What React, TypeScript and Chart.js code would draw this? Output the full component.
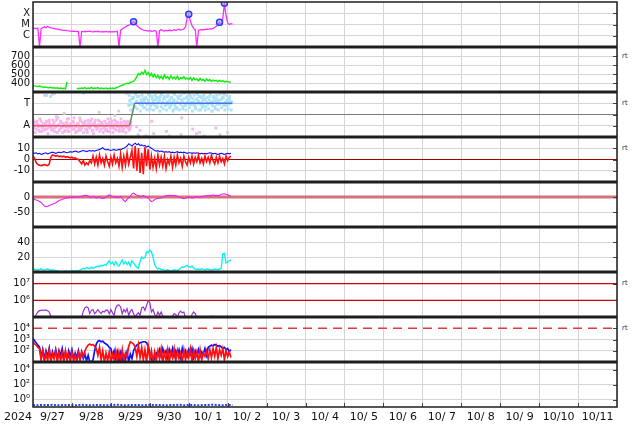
import React, { useEffect, useRef } from 'react';
import { Chart, registerables } from 'chart.js';

Chart.register(...registerables);

const FONT = '"DejaVu Sans", sans-serif';

// ---------- axis text ----------
const dayLabels = ['9/27', '9/28', '9/29', '9/30', '10/ 1', '10/ 2', '10/ 3', '10/ 4', '10/ 5', '10/ 6', '10/ 7', '10/ 8', '10/ 9', '10/10', '10/11'];
const yearLabel = '2024';
const sideMark = 'rt';

const xrayTicks = [1e-6, 1e-5, 1e-4];
const xrayTickLabels = ['C', 'M', 'X'];
const speedTicks = [400, 500, 600, 700];
const speedTickLabels = ['400', '500', '600', '700'];
const sectorTicks = [-1, 0, 1];
const sectorTickLabels = ['A', '', 'T'];
const imfTicks = [-10, 0, 10];
const imfTickLabels = ['-10', '0', '10'];
const dstTicks = [-50, 0];
const dstTickLabels = ['-50', '0'];
const densTicks = [20, 40];
const densTickLabels = ['20', '40'];
const elecTicks = [1e6, 1e7];
const elecTickLabels = ['10\u2076', '10\u2077'];
const protTicks = [1e2, 1e3, 1e4];
const protTickLabels = ['10\u00b2', '10\u00b3', '10\u2074'];
const highTicks = [1, 1e2, 1e4];
const highTickLabels = ['10\u2070', '10\u00b2', '10\u2074'];

// reference levels
const sectorBoundary = 0;
const imfZero = 0;
const dstZero = 0;
const electronLevels = [1e6, 1e7];
const protonLevel = 1e4;
const rtAxes = ['ySpeed', 'ySector', 'yImf', 'yElec', 'yProt'];
const rtLevels = [700, 1, 10, 1e7, 1e4];

// ---------- data (hourly from 2024-09-27 00:00) ----------
// X-ray flux in units of 1e-6 W/m2
const xrayFluxC = [
  4.6, 4.5, 4.4, 4.6, 0.1, 4.5, 5.0, 6.5, 5.2, 7.0, 5.5, 5.0, 4.8,
  4.2, 4.0, 3.8, 3.6, 3.4, 3.2, 3.0, 3.0, 2.8, 2.7, 2.6, 2.5, 2.5, 2.4, 2.4, 2.3,
  0.1,
  2.4, 2.3, 2.5, 2.3, 2.4, 2.6, 2.3, 2.2, 2.4, 2.3, 2.5, 2.3, 2.2, 2.3, 2.2, 2.4, 2.2, 2.3, 2.2, 2.3, 2.2, 2.3, 2.4,
  0.1,
  3.2, 4.0, 5.0, 6.0, 7.5, 9.0, 10, 13, 18,
  12, 8, 6, 4.5, 3.8, 3.2, 3.0, 2.8,
  2.6, 2.8, 2.5, 2.6, 3.0, 2.6,
  0.1,
  2.8, 3.5, 2.8, 2.6, 3.0, 2.7, 3.2, 2.8, 3.0, 3.5, 3.0, 3.4, 3.8, 3.2, 3.6, 4.0, 6.0,
  40, 80,
  20, 8, 4.5, 3.5,
  0.1,
  3.2, 3.3, 3.5, 3.4, 3.6, 3.8, 3.7, 4.0, 4.2, 4.5, 5.5, 7, 10,
  16, 9, 30, 760, 60, 14, 10, 12, 11,
];
const flareHours = [62, 96, 115, 118];
const flareFluxC = [18, 80, 16, 760];

// solar wind speed km/s
const windSpeed = [
  372, 368, 365, 360, 366, 358, 355, 352, 355, 350, 348,
  352, 345, 348, 342, 346, 340, 344, 338, 342, 336,
  412, null, null, null, null, null,
  335, 342, 338, 345, 340, 348, 336, 344, 340, 350, 338, 345, 342, 348, 336, 344, 340, 338, 345, 336, 342, 340, 345, 338,
  345, 352, 360, 368, 375, 382, 390, 398, 395, 405, 412, 420,
  440, 470, 505, 490, 520, 500, 540, 495, 515, 480, 505, 470, 495,
  460, 485, 450, 475, 445, 490, 455, 470, 440, 480, 450, 465, 445, 475, 440, 460, 450, 470, 445, 455,
  440, 460, 430, 455, 435, 445, 425, 450, 430, 440, 420, 445, 425, 438, 418, 432, 422, 430, 415, 428, 418, 425, 412, 420, 415, 410, 408,
];

// IMF sector (A = -1, T = +1)
const sectorChangeDays = [0, 2.48, 2.61, 5.12];
const sectorStates = [-1, -1, 1, 1];
const awayPoints = [
  -1.0, -0.7, -1.3, -0.9, -1.5, -0.6, -1.1, -1.4, -0.8, -1.2, -0.5, -1.0, -1.3, -0.7, -1.1, -1.6, -0.9, -0.6, -1.2, -1.0,
  -1.4, -0.8, -0.4, -1.1, -1.3, -0.7, -1.0, -1.5, -0.9, -0.6, -1.2, -1.0, -0.8, -1.3, -0.5, -1.1, -0.9, -1.4, -0.7, -1.0,
  -1.2, -0.6, -1.3, -0.9, -1.1, -0.8, -1.5, -0.7, -1.0, -1.2, -0.9, -0.6, -1.1, -1.4, -0.8, -1.0, -1.3, -0.7, -1.1, -0.9, -1.2,
];
const awayPoints2 = [
  -1.2, -0.9, -0.6, -1.4, -1.0, -1.2, -0.8, -1.0, -1.3, -0.6, -1.1, -1.4, -0.9, -1.2, -0.5, -1.0, -1.3, -1.1, -0.8, -1.5,
  -0.7, -1.2, -1.0, -0.9, -0.6, -1.3, -1.1, -0.8, -1.2, -1.4, -0.7, -0.9, -1.3, -1.0, -1.2, -0.6, -1.4, -0.8, -1.1, -1.3,
  -0.9, -1.0, -0.7, -1.2, -1.4, -1.0, -0.9, -1.2, -0.6, -1.1, -1.3, -0.8, -1.0, -1.2, -0.7, -1.4, -0.9, -1.1, -0.6, -1.3, -1.0,
];
const awayPoints3 = [
  -0.5, -1.6, -0.8, -1.1, -0.4, -1.5, -0.9, -1.3, -0.6, -1.7, -0.8, -1.2, -0.5, -1.5, -1.0, -0.3, -1.4, -0.7, -1.6, -0.9,
  -1.1, -0.4, -1.5, -0.8, -1.2, -0.3, -1.6, -0.9, -1.4, -0.5, -1.1, -1.6, -0.6, -1.5, -0.8, -1.2, -0.4, -1.7, -0.9, -1.3,
  -0.5, -1.5, -0.8, -1.6, -0.6, -1.3, -0.4, -1.5, -0.8, -1.6, -0.5, -1.4, -0.7, -1.5, -0.4, -1.2, -0.6, -1.6, -0.8, -1.4, -0.7,
];
const towardPoints = [
  0.8, 1.3, 1.0, 1.5, 0.7, 1.2, 1.6, 0.9, 1.1, 1.4, 0.6, 1.0, 1.3, 1.7, 0.9, 1.2, 0.8, 1.5, 1.0, 1.3,
  0.7, 1.1, 1.4, 0.9, 1.6, 1.2, 0.8, 1.0, 1.3, 0.6, 1.1, 1.5, 0.9, 1.2, 1.4, 0.8, 1.0, 1.3, 1.7, 0.9,
  1.1, 0.7, 1.4, 1.2, 1.0, 1.5, 0.8, 1.3, 1.1, 0.9, 1.6, 1.0, 1.2, 0.7, 1.4, 1.1, 0.9, 1.3, 1.5, 1.0, 0.8, 1.2, 1.4, 1.0,
];
const towardPoints2 = [
  1.2, 0.9, 1.4, 0.7, 1.1, 1.6, 1.0, 1.3, 0.8, 1.2, 1.5, 0.9, 1.1, 0.8, 1.4, 1.0, 1.3, 0.7, 1.2, 1.6,
  1.0, 1.4, 0.8, 1.1, 0.9, 1.3, 1.5, 1.2, 0.8, 1.1, 1.4, 1.0, 1.3, 0.7, 1.0, 1.5, 1.2, 0.9, 1.1, 1.4,
  0.8, 1.3, 1.0, 1.6, 0.9, 1.2, 1.4, 0.7, 1.0, 1.3, 1.1, 0.8, 1.5, 1.2, 0.9, 1.3, 1.0, 1.4, 0.8, 1.1, 1.3, 0.9, 1.2, 1.1,
];
const towardPoints3 = [
  1.7, 0.4, 1.5, 0.6, 1.8, 0.5, 1.6, 0.3, 1.7, 0.6, 1.4, 0.4, 1.8, 0.5, 1.6, 0.4, 1.7, 0.6, 1.5, 0.3,
  1.8, 0.5, 1.6, 0.4, 1.7, 0.6, 1.5, 0.3, 1.8, 0.5, 1.6, 0.4, 1.7, 0.5, 1.9, 0.4, 1.6, 0.6, 1.5, 0.3,
  1.7, 0.5, 1.8, 0.4, 1.6, 0.6, 1.7, 0.4, 1.5, 0.5, 1.8, 0.3, 1.6, 0.5, 1.7, 0.4, 1.8, 0.6, 1.5, 0.4, 1.7, 0.5, 1.6, 0.4,
];
const strayGreyDays = [0.3, 0.5, 0.6, 0.9, 1.2, 1.4, 1.7, 1.9, 2.0, 2.2, 2.3, 2.4, 2.45, 2.7, 2.9, 3.1, 3.3, 3.5, 3.6, 3.8, 4.0, 4.2, 4.4, 4.6, 4.8, 4.9, 5.0, 1.6, 2.1, 0.8, 3.0, 3.7, 4.3, 4.7];
const strayGreyVals = [1.7, 1.8, -0.2, -1.5, -0.3, -1.6, 0.2, -1.4, -0.4, 0.3, -1.5, 1.9, -1.2, -1.8, -1.9, -1.7, 1.8, -1.9, 0.4, -1.8, 1.9, -1.7, -1.9, 0.3, -1.8, 1.8, -1.6, -0.5, -0.1, 0.1, 0.5, 0.6, 0.4, 0.5];
const strayPinkDays = [2.66, 2.75, 3.05, 3.43, 3.82, 4.1, 4.28, 4.7];
const strayPinkVals = [-1.1, -1.4, -0.6, -1.5, -0.3, -1.3, -1.6, -1.2];
const strayBlueDays = [0.35, 0.45, 0.55, 1.3];
const strayBlueVals = [1.7, 1.6, 1.85, 1.9];

// IMF nT
const imfBt = [
  6, 5.5, 6, 5, 5.5, 4.5, 5, 5.5, 6, 5, 5.5, 6, 6.5, 6, 5.5, 6, 6.5, 6, 6.5, 7, 6.5, 6, 6.5, 7, 6.5,
  7, 7.5, 7, 6.5, 7, 7.5, 8, 7.5, 7, 7.5, 8, 7.5, 8, 7.5, 8, 8.5, 9, 9.5, 10.5, 9, 8.5, 9, 8.5, 8,
  8.5, 9, 8, 8.5, 9, 8.5, 9.5, 10, 11, 12, 14, 13, 12, 13.5, 14.5, 13, 14, 12.5, 13, 12, 12.5, 11, 12, 11,
  10, 9, 8, 7.5, 8, 7, 7.5, 7, 6.5, 7, 6.5, 7, 6, 6.5, 6, 6.5, 7, 6, 6.5, 6, 6.5, 6, 5.5, 6,
  6, 5.5, 6, 5.5, 6, 5.5, 5, 5.5, 5, 5.5, 5, 5.5, 6, 5.5, 5, 5.5, 5, 4.5, 5, 5.5, 5, 4.5, 5, 5.5, 5, 5.5,
];
const imfBz = [
  3, 1, -3, -4.5, -5, -5.5, -5, -4.5, -5, -5.5, -4, 2, 4,
  3.5, 3, 3.5, 2.5, 3, 2.5, 3, 2, 2.5, 2, 1.5, 2, 1, 1.5, 0.5, 0,
  -2, -4, -1, -5, -3, -4.5, -1, -3,
  3, -4, 2, -5, 4, -3, 1, -5, 3, -2, -6, 2, -4, 4, -3, 1,
  -6, 5, -7, 3, -5, 6, -4, 2,
  8, -8, 12, -10, 10, -12, 6, -13, 11, -6, 9, -9,
  3, -7, 1, -8, 4, -5, 2, -6, 3, -8, 0, -4, 3, -7, 2, -5, 4, -3, 1, -6, 3, -2, -5, 2,
  -3, 3, -4, 2, -2, 4, -3, 1, -4, 3, -2, 2, -3, 4, -1, -4, 2, -3, 3, -2, 1, -4, 3, -1, 2, 3,
];

// Dst nT
const dstIndex = [
  -4, -8, -10, -12, -15, -18, -24, -30, -32, -31,
  -28, -26, -24, -22, -20, -16, -12, -10, -8, -6,
  -4, -3, -2, -1, -2, 0, -1, 0, 1, 0,
  2, 4, 6, 5, 3, 0, -2, 2, 0, -3,
  -2, 0, -4, -5, -3, -1, 4, 7, 5, 2,
  0, 1, -2, 0, 2, -5, -12, -15, -8, -2,
  3, 10, 13, 9, 6, 5, 2, 3, 5, 2,
  0, -3, -10, -15, -13, -8, -6, -5, -4, -3,
  -1, 2, 4, 5, 6, 5, 6, 4, 5, 2,
  0, -2, -4, -6, -5, -2, 0, -1, -3, -2,
  0, 1, -1, 0, 2, 1, 3, 5, 4, 6,
  5, 7, 5, 6, 4, 6, 9, 10, 11, 9,
  8, 5, 2,
];

// solar wind density /cc
const windDensity = [
  3, 4, 2.5, 3.5, 3, 4.5, 3, 2.5, 3.5, 4, 3, 2, 3, 2.5, 2,
  1.5, 1, 0.5, 1, 0.5, 1.5, 1, 0.5, 1, 2, 1.5, 1, 2, 1.5, 2.5,
  3.5, 5, 4, 6, 5, 4.5, 6.5, 5, 6, 7,
  8, 7, 9, 8, 10, 9, 12,
  15, 11, 13, 9, 14, 10, 8,
  12, 16, 11, 14, 10, 13, 8,
  15, 12, 9, 6, 5,
  14, 20, 18, 19,
  27, 26, 29, 27, 20, 10,
  6, 4, 5, 3, 3,
  2.5, 2, 3, 2, 1.5, 2, 3, 2.5, 2, 3,
  5, 7, 6, 8, 9, 7, 6, 8, 5, 4,
  3.5, 4, 3, 4.5, 3.5, 3, 4, 3.5, 3, 2.5, 3, 4, 3.5, 3, 4,
  5, 24, 25, 12, 13, 15, 16,
];

// electron flux, log10
const electronLog = [
  4.9, 4.95, 5.15, 5.3, 5.38, 5.4, 5.42, 5.4, 5.42, 5.38, 5.3, 5.05,
  4.9, 4.85, 4.8, 4.7, 4.6, 4.5, 4.5, 4.5, 4.5, 4.5, 4.6, 4.7, 4.8, 4.85, 4.9, 4.9, 4.95, 4.95, 4.98,
  5.35, 5.55, 5.62, 5.55, 5.2, 5.4, 5.45, 5.2, 5.3, 5.45, 5.3, 5.2, 5.35, 5.3, 5.42, 5.4, 5.2, 5.45, 5.25, 5.1,
  5.55, 5.7, 5.72, 5.6, 5.2, 5.45, 5.3, 5.5, 5.1, 5.35, 5.45, 5.2, 5.0, 5.15, 5.25, 5.1, 5.55, 5.6, 5.4, 5.7,
  5.98, 5.85, 5.3, 5.45, 5.15, 5.0, 5.3, 5.1, 5.3, 5.05,
  4.9, 4.85, 4.8, 4.9, 4.95,
  5.05, 5.2, 5.15, 4.95, 5.25, 5.35, 5.25, 5.3, 4.95,
  4.9, 4.95, 4.85,
  5.15, 5.3, 5.2, 4.95,
  4.8, 4.75, 4.7, 4.7, 4.8, 4.85, 4.9, 4.95, 5.05,
  4.95,
  4.8, 4.7, 4.7, 4.8, 4.85, 4.9, 4.95, 4.9,
  5.05, 4.9, 4.85,
];

// proton flux, log10
const protonBlueLog = [
  3.1, 2.9, 2.7, 2.5, 2.35,
  1.4, 2.1, 1.3, 2.0, 1.5, 2.2, 1.2, 1.9, 1.4, 2.1, 1.3, 2.0, 1.6, 2.2, 1.3, 1.9, 1.2, 2.0, 1.5, 2.1,
  1.3, 1.8, 1.4, 2.0, 1.2, 1.9, 1.3, 1.7, 1.1, 1.6, 1.0,
  1.0, 1.2, 2.0, 2.6, 2.85,
  2.9, 2.8, 2.85, 2.7, 2.6, 2.5, 2.3, 2.2,
  1.5, 2.0, 1.3, 1.9, 1.1, 1.8, 1.0, 1.6, 1.2, 1.9, 1.0, 1.7, 1.3, 2.0, 2.3,
  2.5, 2.6, 2.7, 2.75, 2.8, 2.8, 2.7,
  2.4, 1.8, 1.2, 1.0, 1.3, 1.8,
  1.6, 2.1, 1.5, 2.2, 1.7, 2.0, 1.4, 2.1, 1.6, 2.2, 1.5, 2.0, 1.7, 2.1, 1.4, 2.2,
  1.6, 2.0, 1.5, 2.1, 1.7, 2.2, 1.4, 2.0, 1.6, 2.1, 1.5, 1.9, 1.7, 2.2, 1.6, 2.3,
  2.4, 2.5, 2.45, 2.55, 2.5, 2.4, 2.45, 2.35, 2.2, 2.3, 2.1, 2.2, 1.9, 2.1,
];
const protonRedLog = [
  2.8, 2.6, 2.5, 2.3, 2.2,
  1.2, 2.0, 1.0, 1.8, 1.1, 2.1, 1.0, 1.7, 1.3, 2.0, 1.0, 1.9, 1.1, 1.8, 1.0, 2.0, 1.2, 1.7, 1.0, 1.9,
  1.1, 1.6, 1.0, 1.8, 1.2, 1.9, 1.5,
  2.0, 2.3, 2.5, 2.6, 2.5, 2.55, 2.4,
  2.2, 1.6, 2.3, 1.2, 2.0, 1.0, 1.8, 1.1, 1.9,
  1.0, 1.7, 1.2, 2.0, 1.0, 1.9, 1.1, 2.1, 1.0, 1.8, 1.5,
  2.4, 2.8, 2.7, 2.6,
  2.3, 1.5, 2.5, 1.4, 2.3, 1.2, 2.1, 1.0, 2.4, 1.3, 2.0, 1.0,
  1.9, 1.1, 2.0, 1.3, 2.2, 1.0, 1.8, 1.2, 2.1, 1.0, 1.9, 1.4, 2.2, 1.1, 2.0, 1.3, 1.8, 1.0, 2.1, 1.2,
  1.9, 1.4, 2.2, 1.1, 2.0, 1.3, 1.9, 1.0, 2.1, 1.2, 1.8, 1.5, 2.0, 1.3,
  2.1, 1.4, 2.2, 1.5, 2.3, 1.3, 2.1, 1.6, 2.2, 1.2, 2.0, 1.5, 1.9, 1.4,
];

// high-energy particle flux (3-hourly)
const highEnergyFlux = [
  0.18, 0.17, 0.19, 0.18, 0.2, 0.17, 0.18, 0.19, 0.17, 0.18, 0.2, 0.18, 0.17, 0.19, 0.18, 0.17, 0.18, 0.2, 0.19, 0.17, 0.18,
  0.19, 0.18, 0.17, 0.2, 0.18, 0.19, 0.17, 0.18, 0.18, 0.2, 0.17, 0.19, 0.18, 0.17, 0.18, 0.19, 0.2, 0.18, 0.17, 0.19, 0.18,
];

// ---------- helpers ----------
const series = (vals: (number | null)[], map: (v: number) => number = (v) => v, startHour = 0, stepHours = 1) =>
  vals.map((v, i) => ({ x: (startHour + i * stepHours) / 24, y: v === null ? null : map(v) }));
const pairs = (days: number[], vals: number[], map: (v: number) => number = (v) => v) =>
  days.map((d, i) => ({ x: d, y: map(vals[i]) }));

const panels = [
  { id: 'yXray', type: 'logarithmic', min: 1e-7, max: 1e-3, ticks: xrayTicks, labels: xrayTickLabels, hidden: [] as number[] },
  { id: 'ySpeed', type: 'linear', min: 300, max: 800, ticks: speedTicks, labels: speedTickLabels, hidden: [] as number[] },
  { id: 'ySector', type: 'linear', min: -2, max: 2, ticks: sectorTicks, labels: sectorTickLabels, hidden: [sectorBoundary] },
  { id: 'yImf', type: 'linear', min: -20, max: 20, ticks: imfTicks, labels: imfTickLabels, hidden: [imfZero] },
  { id: 'yDst', type: 'linear', min: -100, max: 50, ticks: dstTicks, labels: dstTickLabels, hidden: [dstZero] },
  { id: 'yDens', type: 'linear', min: 0, max: 60, ticks: densTicks, labels: densTickLabels, hidden: [] as number[] },
  { id: 'yElec', type: 'logarithmic', min: 1e5, max: 5e7, ticks: elecTicks, labels: elecTickLabels, hidden: electronLevels },
  { id: 'yProt', type: 'logarithmic', min: 10, max: 1e5, ticks: protTicks, labels: protTickLabels, hidden: [protonLevel] },
  { id: 'yHigh', type: 'logarithmic', min: 0.1, max: 1e5, ticks: highTicks, labels: highTickLabels, hidden: [] as number[] },
];

const GRID = '#d6d6d6';

const clipPlugin = {
  id: 'panelClip',
  beforeDatasetDraw(chart: any, args: any) {
    const ys = args.meta.yScale;
    const a = chart.chartArea;
    chart.ctx.save();
    chart.ctx.beginPath();
    chart.ctx.rect(a.left, ys.top, a.right - a.left, ys.bottom - ys.top);
    chart.ctx.clip();
  },
  afterDatasetDraw(chart: any) {
    chart.ctx.restore();
  },
};

const framePlugin = {
  id: 'frame',
  beforeDatasetsDraw(chart: any) {
    const { ctx, chartArea: a } = chart;
    const hline = (axis: string, value: number, color: string, width: number, dash: number[]) => {
      const y = chart.scales[axis].getPixelForValue(value);
      ctx.save();
      ctx.strokeStyle = color;
      ctx.lineWidth = width;
      ctx.setLineDash(dash);
      ctx.beginPath();
      ctx.moveTo(a.left, y);
      ctx.lineTo(a.right, y);
      ctx.stroke();
      ctx.restore();
    };
    hline('ySector', sectorBoundary, '#7a7a7a', 1, []);
    hline('yImf', imfZero, '#a00000', 1, []);
    hline('yDst', dstZero, 'rgba(205,90,100,0.85)', 3, []);
    electronLevels.forEach((v) => hline('yElec', v, '#cc0000', 1.2, []));
    hline('yProt', protonLevel, '#e03a3a', 1.5, [9, 6]);
  },
  afterDraw(chart: any) {
    const { ctx, chartArea: a } = chart;
    ctx.save();
    // small inner tick marks on the right edge and along the bottom
    ctx.strokeStyle = '#444';
    ctx.lineWidth = 1;
    panels.forEach((p) => {
      const s = chart.scales[p.id];
      s.ticks.forEach((t: any) => {
        const y = Math.round(s.getPixelForValue(t.value)) + 0.5;
        ctx.beginPath();
        ctx.moveTo(a.right - 4, y);
        ctx.lineTo(a.right, y);
        ctx.stroke();
      });
    });
    const xs = chart.scales.x;
    for (let i = 1; i < dayLabels.length; i++) {
      const x = Math.round(xs.getPixelForValue(i)) + 0.5;
      ctx.beginPath();
      ctx.moveTo(x, a.bottom - 4);
      ctx.lineTo(x, a.bottom);
      ctx.stroke();
    }
    // panel separators and frame
    ctx.strokeStyle = '#1e1e1e';
    ctx.lineWidth = 3;
    panels.slice(1).forEach((p) => {
      const y = chart.scales[p.id].top;
      ctx.beginPath();
      ctx.moveTo(a.left, y);
      ctx.lineTo(a.right, y);
      ctx.stroke();
    });
    ctx.lineWidth = 1.5;
    ctx.strokeRect(a.left, a.top, a.right - a.left, a.bottom - a.top);
    ctx.fillStyle = '#111';
    ctx.font = `11px ${FONT}`;
    ctx.textAlign = 'center';
    ctx.textBaseline = 'middle';
    ctx.fillText(yearLabel, 18, a.bottom + 10);
    ctx.font = `7px ${FONT}`;
    ctx.fillStyle = '#333';
    ctx.textAlign = 'left';
    rtAxes.forEach((id, i) => ctx.fillText(sideMark, a.right + 5, chart.scales[id].getPixelForValue(rtLevels[i])));
    ctx.restore();
  },
};

function buildConfig(): any {
  const scales: any = {
    x: {
      type: 'linear',
      position: 'bottom',
      min: 0,
      max: dayLabels.length,
      afterBuildTicks: (s: any) => {
        const t: any[] = [];
        for (let i = 0; i <= dayLabels.length; i++) {
          t.push({ value: i });
          if (i < dayLabels.length) t.push({ value: i + 0.5 });
        }
        s.ticks = t;
      },
      afterFit: (s: any) => {
        s.height = 17;
        s.paddingLeft = 0;
        s.paddingRight = 0;
      },
      ticks: {
        autoSkip: false,
        maxRotation: 0,
        minRotation: 0,
        padding: 4,
        color: '#111',
        font: { family: FONT, size: 11 },
        callback: (v: any) => {
          const n = Number(v);
          return Number.isInteger(n) ? '' : dayLabels[Math.floor(n)];
        },
      },
      grid: {
        drawTicks: false,
        lineWidth: 1,
        color: (c: any) => (c.tick && Number.isInteger(c.tick.value) ? GRID : 'rgba(0,0,0,0)'),
      },
      border: { display: false },
    },
  };
  panels.forEach((p, i) => {
    scales[p.id] = {
      type: p.type,
      position: 'left',
      stack: 'panels',
      stackWeight: 1,
      weight: panels.length - i,
      min: p.min,
      max: p.max,
      bounds: 'data',
      afterBuildTicks: (s: any) => {
        s.ticks = p.ticks.map((v) => ({ value: v }));
      },
      afterFit: (s: any) => {
        s.width = 33;
        s.paddingTop = 0;
        s.paddingBottom = 0;
      },
      ticks: {
        autoSkip: false,
        padding: 3,
        color: '#111',
        font: { family: FONT, size: 10 },
        callback: (_v: any, idx: number) => p.labels[idx],
      },
      grid: {
        drawTicks: false,
        lineWidth: 1,
        color: (c: any) => (c.tick && p.hidden.includes(c.tick.value) ? 'rgba(0,0,0,0)' : GRID),
      },
      border: { display: false },
    };
  });

  const line = (data: any[], yAxisID: string, color: string, width: number, order: number, extra: any = {}) => ({
    type: 'line',
    data,
    yAxisID,
    xAxisID: 'x',
    borderColor: color,
    backgroundColor: color,
    borderWidth: width,
    pointRadius: 0,
    tension: 0,
    spanGaps: false,
    order,
    ...extra,
  });
  const dots = (data: any[], yAxisID: string, color: string, order: number) => ({
    type: 'scatter',
    data,
    yAxisID,
    xAxisID: 'x',
    showLine: false,
    pointStyle: 'rect',
    pointRadius: 2,
    borderWidth: 0,
    backgroundColor: color,
    borderColor: color,
    order,
  });

  const PINK = '#f7b5ef';
  const LBLUE = '#abe3f9';
  const GREY = '#d2d2d2';
  const sectorColors = ['#e85a5a', '#6f8a5c', '#4f6ee8'];

  const datasets: any[] = [
    // panel 1
    {
      type: 'scatter',
      data: flareHours.map((h, i) => ({ x: h / 24, y: flareFluxC[i] * 1e-6 })),
      yAxisID: 'yXray',
      xAxisID: 'x',
      pointStyle: 'circle',
      pointRadius: 3,
      borderWidth: 1.5,
      borderColor: '#2a3cff',
      backgroundColor: 'rgba(150,160,255,0.55)',
      order: 0,
    },
    line(series(xrayFluxC, (v) => v * 1e-6), 'yXray', '#ff2cff', 1.3, 1),
    // panel 2
    line(series(windSpeed), 'ySpeed', '#11ee11', 1.5, 1),
    // panel 3
    line(pairs(sectorChangeDays, sectorStates), 'ySector', '#4f6ee8', 1.5, 0, {
      segment: { borderColor: (c: any) => sectorColors[c.p0DataIndex] },
    }),
    dots(series(towardPoints, (v) => v, 59), 'ySector', LBLUE, 3),
    dots(series(towardPoints2, (v) => v, 59.5), 'ySector', LBLUE, 3),
    dots(series(towardPoints3, (v) => v, 59.25), 'ySector', LBLUE, 3),
    dots(pairs(strayBlueDays, strayBlueVals), 'ySector', LBLUE, 3),
    dots(series(awayPoints), 'ySector', PINK, 4),
    dots(series(awayPoints2, (v) => v, 0.5), 'ySector', PINK, 4),
    dots(series(awayPoints3, (v) => v, 0.25), 'ySector', PINK, 4),
    dots(pairs(strayPinkDays, strayPinkVals), 'ySector', PINK, 4),
    dots(pairs(strayGreyDays, strayGreyVals), 'ySector', GREY, 5),
    // panel 4
    line(series(imfBz), 'yImf', '#ff1010', 1.6, 1),
    line(series(imfBt), 'yImf', '#1010ff', 1.1, 2),
    // panel 5
    line(series(dstIndex), 'yDst', '#ee22ee', 1.1, 1),
    // panel 6
    line(series(windDensity), 'yDens', '#10f0f0', 1.4, 1),
    // panel 7
    line(series(electronLog, (v) => Math.pow(10, v)), 'yElec', '#9a30d0', 1.2, 1),
    // panel 8
    line(series(protonRedLog, (v) => Math.pow(10, v)), 'yProt', '#ff1010', 1.7, 1),
    line(series(protonBlueLog, (v) => Math.pow(10, v)), 'yProt', '#1010ff', 1.7, 2),
    // panel 9
    line(series(highEnergyFlux, (v) => v, 0, 3), 'yHigh', '#2040ff', 2, 1, { borderDash: [2, 1.5] }),
  ];

  return {
    type: 'line',
    data: { datasets },
    plugins: [clipPlugin, framePlugin],
    options: {
      responsive: false,
      animation: false,
      devicePixelRatio: 1,
      parsing: true,
      layout: { autoPadding: false, padding: { top: 2, right: 17, left: 0, bottom: 0 } },
      plugins: { legend: { display: false }, tooltip: { enabled: false }, title: { display: false } },
      events: [],
      scales,
    },
  };
}

export default function App() {
  const ref = useRef<HTMLCanvasElement>(null);
  useEffect(() => {
    const canvas = ref.current;
    if (!canvas) return;
    const chart = new Chart(canvas, buildConfig());
    return () => chart.destroy();
  }, []);
  return (
    <div style={{ position: 'fixed', left: 0, top: 0, width: 634, height: 424, background: '#fff' }}>
      <canvas ref={ref} width={634} height={424} style={{ display: 'block', width: 634, height: 424 }} />
    </div>
  );
}
